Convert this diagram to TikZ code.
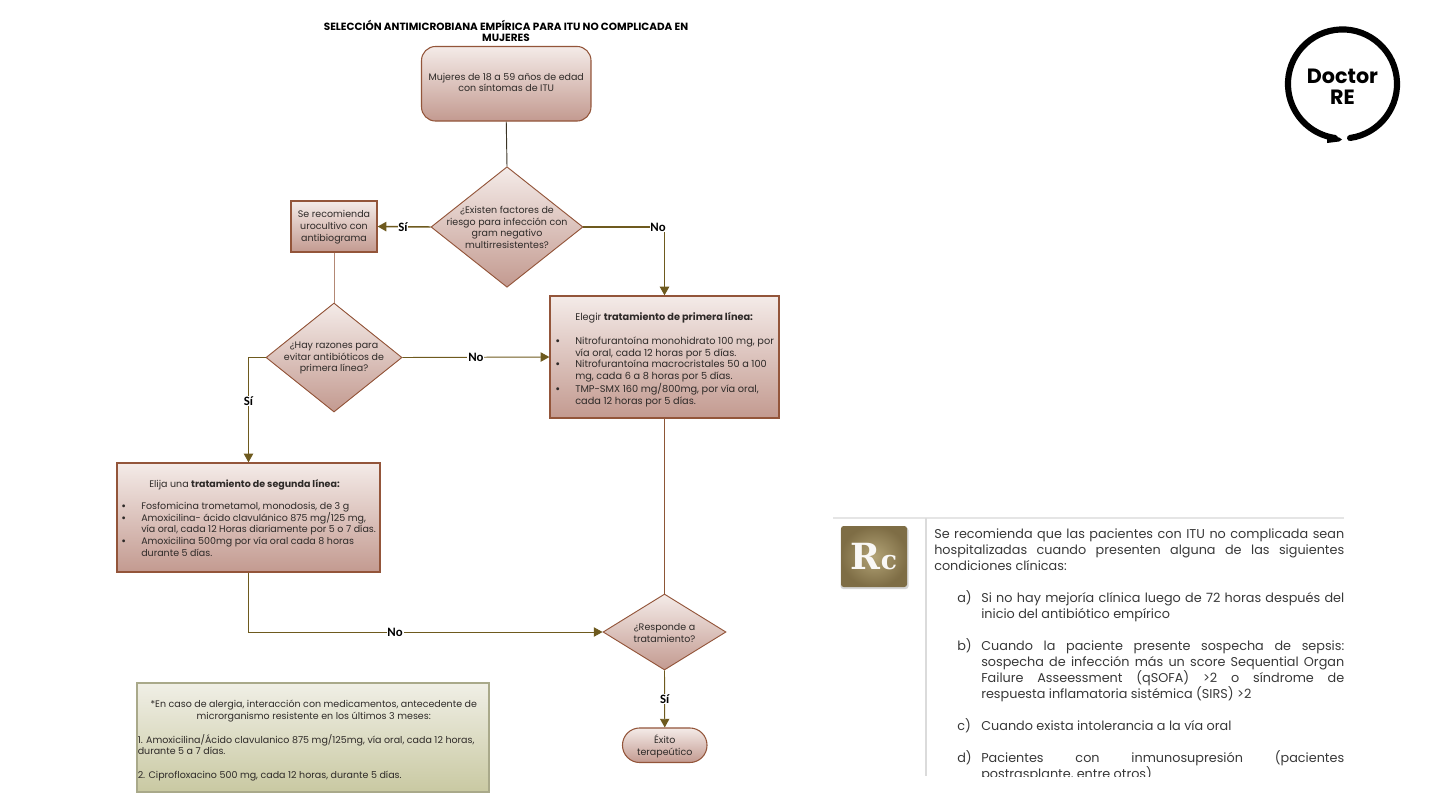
\documentclass[tikz,border=0pt]{standalone}
\usepackage{fontspec}
\setmainfont{Poppins}
\newfontfamily\lblfont{Carlito}
\newfontfamily\rcfont{DejaVu Serif}
\usetikzlibrary{shapes.geometric,arrows.meta}
\definecolor{edgeb}{HTML}{93553A}
\definecolor{topb}{HTML}{F4EBE8}
\definecolor{botb}{HTML}{C39A90}
\definecolor{olive}{HTML}{6E5A1E}
\definecolor{inkb}{HTML}{2E2A28}
\definecolor{rcin}{HTML}{B3A477}
\definecolor{rcout}{HTML}{7E6D45}
\definecolor{notetop}{HTML}{F0EFE6}
\definecolor{notebot}{HTML}{C9C9A2}
\definecolor{noteedge}{HTML}{A9A98A}
\newcommand\boxfont{\fontsize{7.12}{8.8}\selectfont}
\newcommand\primfont{\fontsize{7.32}{8.8}\selectfont}
\newcommand\bulA{\hspace*{-15pt}\makebox[15pt][l]{\textbf{•}}}
\tikzset{
  fb/.style={draw=edgeb,line width=.8pt,top color=topb,bottom color=botb,inner sep=0pt},
  rectb/.style={fb,rectangle,line width=.95pt},
  roundb/.style={fb,rectangle,rounded corners=10.5pt},
  diam/.style={fb,diamond,line width=.7pt},
  txt/.style={inner sep=0pt,text=inkb,font=\boxfont},
  flow/.style={draw=olive,line width=.7pt,-{Triangle[length=6.5pt,width=7pt]}},
  flowb/.style={flow,line width=1.1pt},
  lbl/.style={fill=white,inner sep=.6pt,font=\lblfont\bfseries\fontsize{9.6}{10}\selectfont,text=black},
  rctext/.style={inner sep=0pt,anchor=north west,align=justify,text=black!78,font=\fontsize{9.6}{12}\selectfont},
}
\begin{document}
\begin{tikzpicture}[x=.75pt,y=-.75pt]
\useasboundingbox (0,0) rectangle (1440,810);
% title
\node[inner sep=0pt,align=center,font=\bfseries\fontsize{7.85}{8.3}\selectfont,text=black] (title) at (506,30.5)
  {SELECCIÓN ANTIMICROBIANA EMPÍRICA PARA ITU NO COMPLICADA EN\\MUJERES};
% shapes
\node[roundb,minimum width=127.1pt,minimum height=55.9pt] (start) at (506.25,83.75) {};
\node[txt,align=center] (startt) at (506.25,82.5) {Mujeres de 18 a 59 años de edad\\con síntomas de ITU};
\node[diam,minimum width=114pt,minimum height=90.4pt] (d1) at (507,227) {};
\node[txt,align=center] (d1t) at (507,227.5) {¿Existen factores de\\riesgo para infección con\\gram negativo\\multirresistentes?};
\node[rectb,minimum width=64.5pt,minimum height=38.25pt] (uro) at (334,226.5) {};
\node[txt,align=center,font=\fontsize{7.12}{9}\selectfont] (urot) at (334,227.5) {Se recomienda\\urocultivo con\\antibiograma};
\node[diam,minimum width=102pt,minimum height=81.75pt] (d2) at (334,357.5) {};
\node[txt,align=center] (d2t) at (334,358) {¿Hay razones para\\evitar antibióticos de\\primera línea?};
\node[rectb,minimum width=171.75pt,minimum height=91.5pt] (prim) at (664.5,357) {};
\node[txt,font=\primfont,align=left,anchor=north west] (primt) at (575,312) {Elegir \textbf{tratamiento de primera línea:}\\[9.2pt]
 \bulA Nitrofurantoína monohidrato 100 mg, por\\
 vía oral, cada 12 horas por 5 días.\\
 \bulA Nitrofurantoína macrocristales 50 a 100\\
 mg, cada 6 a 8 horas por 5 días.\\
 \bulA TMP-SMX 160 mg/800mg, por vía oral,\\
 cada 12 horas por 5 días.};
\node[rectb,minimum width=197.25pt,minimum height=81.75pt] (seg) at (248.5,517.5) {};
\node[txt,align=left,anchor=north west] (segt) at (141,479) {\hspace*{6pt}Elija una \textbf{tratamiento de segunda línea:}\\[7.8pt]
 \bulA Fosfomicina trometamol, monodosis, de 3 g\\
 \bulA Amoxicilina- ácido clavulánico 875 mg/125 mg,\\
 vía oral, cada 12 Horas diariamente por 5 o 7 días.\\
 \bulA Amoxicilina 500mg por vía oral cada 8 horas\\
 durante 5 días.};
\node[diam,minimum width=92.25pt,minimum height=57pt] (d3) at (664.5,632) {};
\node[txt,align=center] (d3t) at (664.5,633) {¿Responde a\\tratamiento?};
\node[fb,rectangle,rounded corners=12.9pt,minimum width=63.4pt,minimum height=25.9pt] (exito) at (664.75,745.25) {};
\node[txt,align=center,font=\fontsize{7.12}{9}\selectfont] (exitot) at (664.75,746.5) {Éxito\\terapeútico};
\node[rectangle,draw=noteedge,line width=.85pt,top color=notetop,bottom color=notebot,inner sep=0pt,minimum width=264pt,minimum height=81.75pt] (note) at (313,737.5) {};
\node[txt,align=left,anchor=north west] (notet) at (137.5,700) {\makebox[264pt][c]{*En caso de alergia, interacción con medicamentos, antecedente de}\\
 \makebox[264pt][c]{microrganismo resistente en los últimos 3 meses:}\\[9pt]
 1. Amoxicilina/Ácido clavulanico 875 mg/125mg, vía oral, cada 12  horas,\\
 durante 5 a 7 días.\\[9pt]
 2. Ciprofloxacino 500 mg, cada 12 horas, durante 5 días.};
% connectors
\draw[draw=inkb!80!olive,line width=.7pt] (start.south) -- (d1.north);
\draw[flowb] (d1.west) -- node[lbl,pos=.52] (l1) {Sí} (uro.east);
\draw[flowb] (d1.east) -| node[lbl,pos=.46] (l2) {No} (prim.north);
\draw[draw=edgeb!70!white,line width=.7pt] (uro.south) -- (d2.north);
\draw[flow] (d2.east) -- node[lbl,pos=.5] (l3) {No} (prim.west);
\draw[flow] (d2.west) -| node[lbl,pos=.707] (l4) {Sí} (seg.north);
\draw[flow] (seg.south) |- node[lbl,pos=.707] (l5) {No} (d3.west);
\draw[draw=edgeb!85!olive,line width=.7pt] (prim.south) -- (d3.north);
\draw[flow] (d3.south) -- node[lbl,pos=.5] (l6) {Sí} (exito.north);
% logo
\coordinate (logostart) at ({1342.5+54.5*cos(82)},{84+54.5*sin(82)});
\draw[black,line width=4.6pt,line cap=round] (logostart) arc[start angle=-82,end angle=262,radius=40.9pt];
\fill[black] (1327,136) -- (1339,137.5) -- (1342,139.5) -- (1339,141.5) -- (1327,143) -- cycle;
\node[inner sep=0pt,align=center,font=\bfseries\fontsize{15.5}{15.8}\selectfont,text=black] (logo) at (1342.5,86.5) {Doctor\\RE};
% Rc panel
\coordinate (pa) at (833,518); \coordinate (pb) at (1344,518);
\coordinate (pc) at (926,518); \coordinate (pd) at (926,776);
\draw[black!10,line width=.8pt] (pa) -- (pb);
\draw[black!14,line width=1pt] (pc) -- (pd);
\fill[black!16,rounded corners=2pt] (840.5,527.5) rectangle (908.5,589);
\node[rectangle,rounded corners=2pt,inner color=rcin,outer color=rcout,inner sep=0pt,minimum width=49.5pt,minimum height=45.75pt,text=white!96!olive,font=\rcfont\bfseries] (rc) at (874,556.5) {\fontsize{27}{27}\selectfont R\fontsize{20}{20}\selectfont c};
\node[rctext,text width=307.5pt] (p0) at (934,528.5) {Se recomienda que las pacientes con ITU no complicada sean\linebreak hospitalizadas cuando presenten alguna de las siguientes\linebreak condiciones clínicas:};
\node[rctext,text width=272.25pt] (pa1) at (981,590.5) {\llap{\makebox[18pt][l]{a)}}Si no hay mejoría clínica luego de 72 horas después del\linebreak inicio del antibiótico empírico};
\node[rctext,text width=272.25pt] (pb1) at (981,638.5) {\llap{\makebox[18pt][l]{b)}}Cuando la paciente presente sospecha de sepsis:\linebreak sospecha de infección más un score Sequential Organ\linebreak Failure Asseessment (qSOFA) >2 o síndrome de\linebreak respuesta inflamatoria sistémica (SIRS) >2};
\node[rctext,text width=272.25pt] (pc1) at (981,718.5) {\llap{\makebox[18pt][l]{c)}}Cuando exista intolerancia a la vía oral};
\begin{scope}
\clip (940,740) rectangle (1350,776);
\node[rctext,text width=272.25pt] (pd1) at (981,750.5) {\llap{\makebox[18pt][l]{d)}}Pacientes con inmunosupresión (pacientes\linebreak postrasplante, entre otros)};
\end{scope}
\end{tikzpicture}
\end{document}
